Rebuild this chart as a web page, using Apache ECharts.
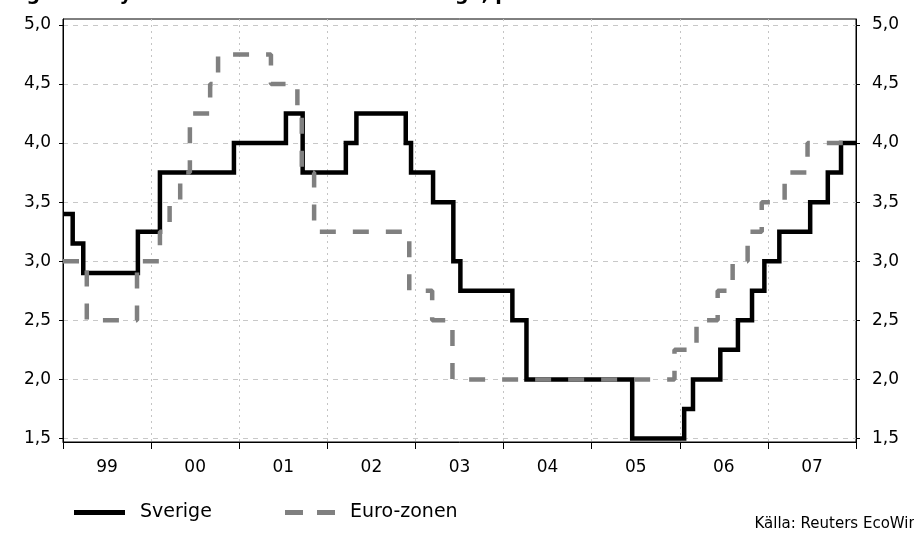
<!DOCTYPE html>
<html>
<head>
<meta charset="utf-8">
<script src="https://cdn.jsdelivr.net/npm/echarts@6/dist/echarts.min.js"></script>
<style>
  * { margin: 0; padding: 0; }
  body { background: #fff; }
</style>
</head>
<body>
<!-- container with a fixed size -->
<div id="main" style="width: 914px; height: 533px"></div>
<script>
// repo rate, Sverige (change date as decimal year, rate in percent)
var sverigeDates = [1999.0, 1999.11, 1999.23, 1999.85, 2000.1, 2000.94, 2001.53, 2001.72, 2002.21, 2002.33,
  2002.89, 2002.95, 2003.2, 2003.43, 2003.51, 2004.1, 2004.26, 2005.46, 2006.05, 2006.15,
  2006.46, 2006.66, 2006.82, 2006.96, 2007.13, 2007.48, 2007.68, 2007.83, 2008.0];
var sverigeRates = [3.40, 3.15, 2.90, 3.25, 3.75, 4.00, 4.25, 3.75, 4.00, 4.25,
  4.00, 3.75, 3.50, 3.00, 2.75, 2.50, 2.00, 1.50, 1.75, 2.00,
  2.25, 2.50, 2.75, 3.00, 3.25, 3.50, 3.75, 4.00, 4.00];

// ECB refi rate, Euro-zonen
var euroDates = [1999.0, 1999.27, 1999.84, 2000.1, 2000.21, 2000.33, 2000.44, 2000.67, 2000.76, 2001.36,
  2001.66, 2001.71, 2001.85, 2002.93, 2003.19, 2003.42, 2005.94, 2006.19, 2006.43, 2006.6,
  2006.77, 2006.93, 2007.19, 2007.45, 2008.0];
var euroRates = [3.00, 2.50, 3.00, 3.25, 3.50, 3.75, 4.25, 4.50, 4.75, 4.50,
  4.25, 3.75, 3.25, 2.75, 2.50, 2.00, 2.25, 2.50, 2.75, 3.00,
  3.25, 3.50, 3.75, 4.00, 4.00];

var yearTicks = [1999.5, 2000.5, 2001.5, 2002.5, 2003.5, 2004.5, 2005.5, 2006.5, 2007.5];
var yearLabels = ["99", "00", "01", "02", "03", "04", "05", "06", "07"];
var rateTicks = [1.5, 2.0, 2.5, 3.0, 3.5, 4.0, 4.5, 5.0];

function pairs(xs, ys) {
  var out = [];
  for (var i = 0; i < xs.length; i++) {
    out.push([xs[i], ys[i]]);
  }
  return out;
}

var font = "DejaVu Sans";
var rateLabel = function (v) {
  return v.toFixed(1).replace(".", ",");
};

var chart = echarts.init(document.getElementById("main"));
chart.setOption({
  animation: false,
  title: {
    text: "Figur 1. Styrräntor i Euro-zonen och Sverige, procent",
    left: 2,
    top: -19,
    textStyle: { fontFamily: font, fontSize: 19, fontWeight: "bold", color: "#000" },
  },
  grid: {
    left: 63,
    right: 58,
    top: 19,
    bottom: 91,
    show: true,
    borderColor: "#000",
    borderWidth: 1,
  },
  legend: [
    {
      data: ["Sverige"],
      left: 69,
      top: 498,
      icon: "rect",
      itemWidth: 51,
      itemHeight: 5,
      textStyle: { fontFamily: font, fontSize: 19, color: "#000", padding: [0, 0, 0, 10] },
    },
    {
      data: ["Euro-zonen"],
      left: 280,
      top: 498,
      icon: "path://M0,0H18V5H0Z M32,0H50V5H32Z",
      itemWidth: 50,
      itemHeight: 5,
      textStyle: { fontFamily: font, fontSize: 19, color: "#000", padding: [0, 0, 0, 10] },
    },
  ],
  xAxis: {
    type: "value",
    min: 1999,
    max: 2008,
    interval: 1,
    axisLine: { lineStyle: { color: "#000", width: 1 } },
    axisTick: { show: true, length: 7, lineStyle: { color: "#000" } },
    axisLabel: {
      customValues: yearTicks,
      margin: 17,
      fontFamily: font,
      fontSize: 17,
      color: "#000",
      formatter: function (v) {
        return yearLabels[yearTicks.indexOf(v)];
      },
    },
    splitLine: { show: true, lineStyle: { color: "#c4c4c4", type: [2, 4], width: 1 } },
  },
  yAxis: [
    {
      type: "value",
      position: "left",
      min: 1.47,
      max: 5.05,
      axisLine: { show: true, lineStyle: { color: "#000", width: 1 } },
      axisTick: { show: true, customValues: rateTicks, length: 4, lineStyle: { color: "#000" } },
      axisLabel: { customValues: rateTicks, margin: 12, fontFamily: font, fontSize: 17, color: "#000", formatter: rateLabel },
      splitLine: { show: true, lineStyle: { color: "#c8c8c8", type: [5, 5], width: 1 } },
    },
    {
      type: "value",
      position: "right",
      min: 1.47,
      max: 5.05,
      axisLine: { show: true, lineStyle: { color: "#000", width: 1 } },
      axisTick: { show: true, customValues: rateTicks, length: 4, lineStyle: { color: "#000" } },
      axisLabel: { customValues: rateTicks, margin: 16, fontFamily: font, fontSize: 17, color: "#000", formatter: rateLabel },
      splitLine: { show: false },
    },
  ],
  series: [
    {
      name: "Sverige",
      type: "line",
      step: "end",
      symbol: "none",
      data: pairs(sverigeDates, sverigeRates),
      color: "#000",
      lineStyle: { color: "#000", width: 4.5, join: "miter" },
    },
    {
      name: "Euro-zonen",
      type: "line",
      step: "end",
      symbol: "none",
      data: pairs(euroDates, euroRates),
      color: "#808080",
      lineStyle: { color: "#808080", width: 4.5, type: [16, 17] },
    },
  ],
  graphic: [
    {
      type: "text",
      right: -4,
      top: 517,
      style: { text: "Källa: Reuters EcoWin", font: "15px DejaVu Sans", fill: "#000" },
    },
  ],
});
</script>
</body>
</html>
